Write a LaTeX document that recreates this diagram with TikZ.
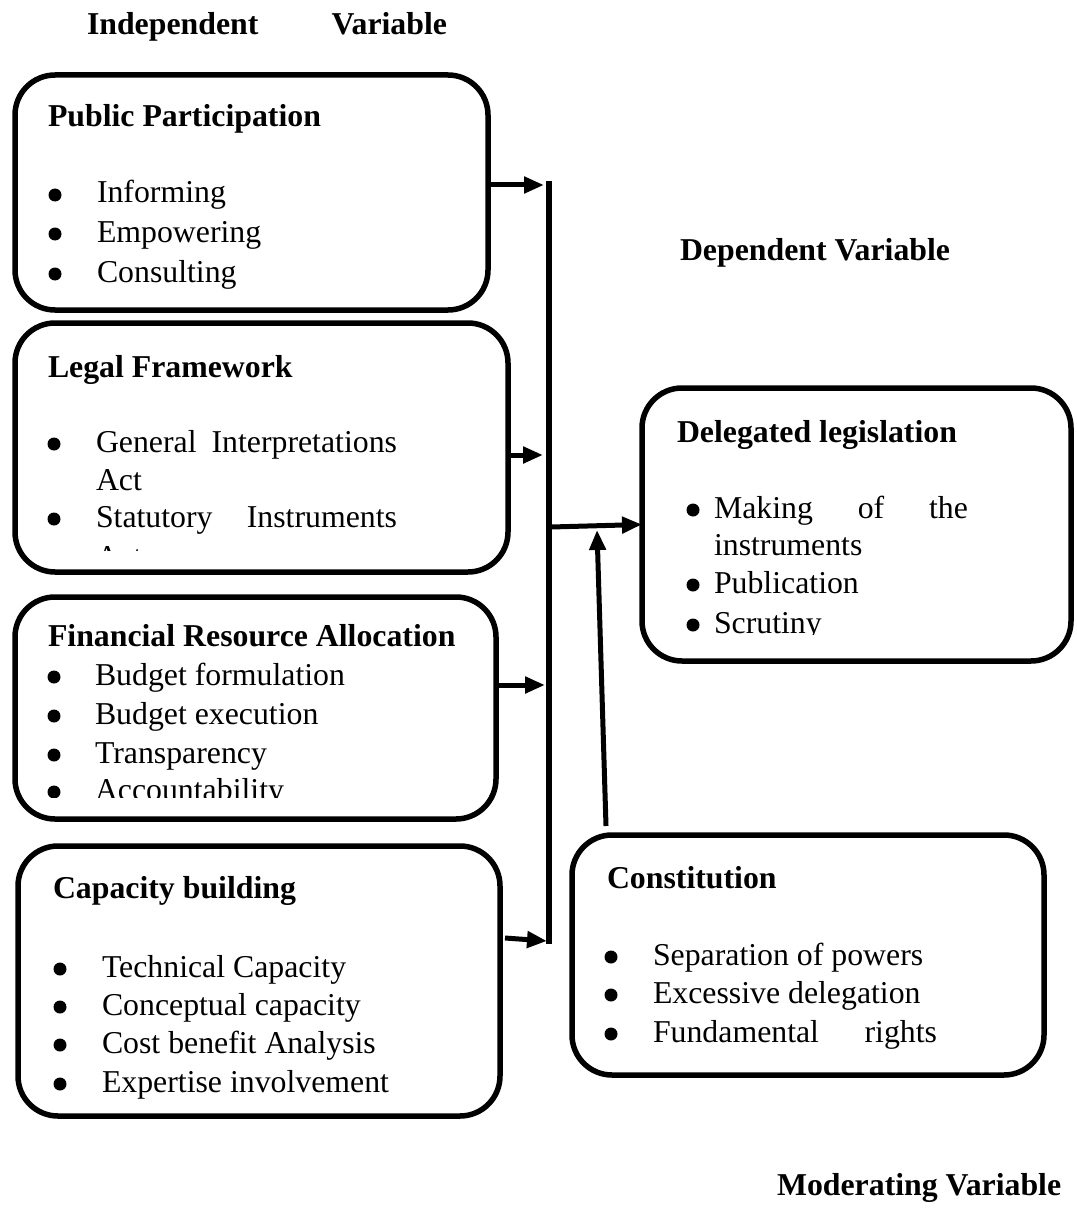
\documentclass[tikz,border=0pt]{standalone}
\usepackage{fontspec}
\setmainfont{Liberation Serif}
\usetikzlibrary{arrows.meta}

% one bulleted line: name, bullet centre x, text x, baseline y, text
\newcommand{\bulletline}[5]{%
  \node[dot] (#1-b) at (#2,{#4-8}) {};
  \node[txt] (#1) at (#3,#4) {#5};}

\begin{document}
\begin{tikzpicture}[x=1pt,y=-1pt,
  box/.style={draw, line width=5.5pt, rounded corners=40pt, inner sep=0pt, outer sep=0pt, anchor=north west},
  txt/.style={anchor=base west, inner sep=0pt, outer sep=0pt, font=\fontsize{31.8}{36}\selectfont},
  head/.style={txt, font=\fontsize{31.8}{36}\selectfont\bfseries},
  dot/.style={circle, fill, inner sep=0pt, outer sep=0pt, minimum size=13pt},
  link/.style={line width=5pt, -{Triangle[length=20pt,width=16pt]}},
  bus/.style={line width=6pt},
]
\useasboundingbox[fill=white] (0,0) rectangle (1076,1225);

% variable headings
\node[head] (indep) at (87,35) {\makebox[360pt][s]{Independent Variable}};
\node[head] (dep) at (680,260) {Dependent Variable};
\node[head] (mod) at (777,1195) {Moderating Variable};

% frames
\node[box, minimum width=473pt, minimum height=235pt] (pp) at (15,75) {};
\node[box, minimum width=493pt, minimum height=249pt] (lf) at (15,323) {};
\node[box, minimum width=481pt, minimum height=222pt] (fr) at (15,597) {};
\node[box, minimum width=482pt, minimum height=270pt] (cb) at (18,846) {};
\node[box, minimum width=429pt, minimum height=273pt] (dl) at (642,388) {};
\node[box, minimum width=472pt, minimum height=240pt] (co) at (572,835) {};

% Public Participation
\node[head] (pp-t) at (48,127) {Public Participation};
\bulletline{pp1}{55}{97}{203}{Informing}
\bulletline{pp2}{55}{97}{242}{Empowering}
\bulletline{pp3}{55}{97}{282}{Consulting}

% Legal Framework
\node[head] (lf-t) at (48,377) {Legal Framework};
\bulletline{lf1}{54}{96}{452}{\makebox[301pt][s]{General Interpretations}}
\node[txt] (lf1b) at (96,490) {Act};
\bulletline{lf2}{54}{96}{527}{\makebox[301pt][s]{Statutory Instruments}}
\begin{scope}
  \clip (0,0) rectangle (1076,550);
  \node[txt] (lf2b) at (96,567) {Act};
\end{scope}

% Financial Resource Allocation
\node[head] (fr-t) at (48,646) {Financial Resource Allocation};
\bulletline{fr1}{54}{95}{685}{Budget formulation}
\bulletline{fr2}{54}{95}{724}{Budget execution}
\bulletline{fr3}{54}{95}{763}{Transparency}
\begin{scope}
  \clip (0,0) rectangle (1076,797);
  \bulletline{fr4}{54}{95}{800}{Accountability}
\end{scope}

% Capacity building
\node[head] (cb-t) at (53,898) {Capacity building};
\bulletline{cb1}{60}{102}{977}{Technical Capacity}
\bulletline{cb2}{60}{102}{1015}{Conceptual capacity}
\bulletline{cb3}{60}{102}{1053}{Cost benefit Analysis}
\bulletline{cb4}{60}{102}{1092}{Expertise involvement}

% Delegated legislation
\node[head] (dl-t) at (677,442) {Delegated legislation};
\bulletline{dl1}{693}{714}{518}{\makebox[254pt][s]{Making of the}}
\node[txt] (dl1b) at (714,555) {instruments};
\bulletline{dl2}{693}{714}{593}{Publication}
\begin{scope}
  \clip (0,0) rectangle (1076,634);
  \bulletline{dl3}{693}{714}{633}{Scrutiny}
\end{scope}

% Constitution
\node[head] (co-t) at (607,888) {Constitution};
\bulletline{co1}{611}{653}{965}{Separation of powers}
\bulletline{co2}{611}{653}{1003}{Excessive delegation}
\bulletline{co3}{611}{653}{1042}{\makebox[284pt][s]{Fundamental rights}}

% collecting bar and its joints
\coordinate (bartop) at (549,181);
\coordinate (barbot) at (549,944);
\coordinate (j1) at (544,185);
\coordinate (j2) at (543,455);
\coordinate (j3) at (545,685);
\coordinate (j4) at (547,941);
\coordinate (s4) at (0,938);
\coordinate (jo) at (551,527);
\coordinate (mtip) at (597,530);

\draw[bus] (bartop) -- (barbot);
\draw[link] (pp.east |- j1) -- (j1);
\draw[link] (lf.east |- j2) -- (j2);
\draw[link] (fr.east |- j3) -- (j3);
\draw[link] ([xshift=5pt]cb.east |- s4) -- (j4);
\draw[link] (jo) -- (dl.west);
\draw[link] ([xshift=34pt,yshift=9pt]co.north west) -- (mtip);
\end{tikzpicture}
\end{document}
